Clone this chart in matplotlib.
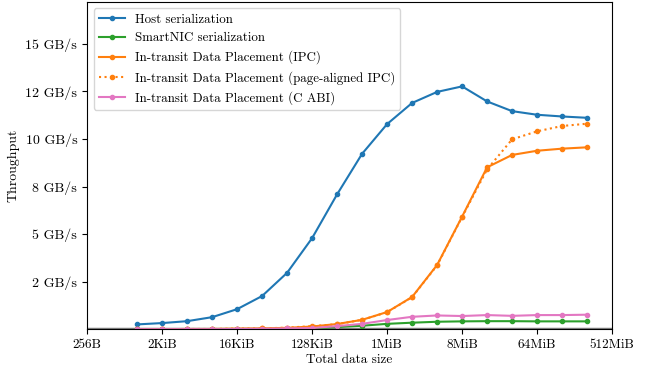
"""Throughput vs total data size for the serialization / data placement variants."""

import matplotlib
matplotlib.use('Agg')
from matplotlib import pyplot as plt
from matplotlib.ticker import FuncFormatter

plt.rcParams['font.family'] = 'serif'
plt.rcParams['font.serif'] = ['cmr10']
plt.rcParams['mathtext.fontset'] = 'cm'
plt.rcParams['axes.formatter.use_mathtext'] = True
plt.rcParams['font.size'] = 10

# sizes: 1KiB .. 256MiB, as powers of two
exponents = list(range(10, 29))
sizes = [2 ** e for e in exponents]

host = [0.26, 0.33, 0.43, 0.64, 1.06, 1.75, 2.97, 4.79, 7.09, 9.22, 10.78,
        11.89, 12.47, 12.76, 11.97, 11.46, 11.27, 11.18, 11.11]
smartnic = [0.005, 0.005, 0.005, 0.005, 0.01, 0.01, 0.02, 0.05, 0.12, 0.19,
            0.29, 0.35, 0.40, 0.42, 0.43, 0.43, 0.42, 0.42, 0.42]
ipc = [0.01, 0.01, 0.02, 0.02, 0.04, 0.05, 0.08, 0.15, 0.28, 0.50, 0.91,
       1.70, 3.38, 5.92, 8.51, 9.16, 9.38, 9.49, 9.56]
ipc_aligned = [0.01, 0.01, 0.02, 0.02, 0.04, 0.05, 0.09, 0.17, 0.27, 0.50,
               0.90, 1.69, 3.36, 5.90, 8.40, 9.98, 10.40, 10.68, 10.80]
c_abi = [0.01, 0.01, 0.01, 0.01, 0.02, 0.03, 0.05, 0.07, 0.17, 0.29, 0.49,
         0.66, 0.73, 0.70, 0.75, 0.71, 0.75, 0.75, 0.77]

xtick_exp = [8, 11, 14, 17, 20, 23, 26, 29]
xtick_labels = ['256B', '2KiB', '16KiB', '128KiB', '1MiB', '8MiB', '64MiB',
                '512MiB']
yticks = [2.5, 5, 7.5, 10, 12.5, 15]

fig, ax = plt.subplots(figsize=(6.45, 3.68), dpi=100)
fig.subplots_adjust(left=0.135, right=0.949, top=0.995, bottom=0.105)

ax.axhline(0, color='gray', lw=2.5, zorder=1)
ax.plot(sizes, host, '.-', color='#1f77b4', label='Host serialization')
ax.plot(sizes, smartnic, '.-', color='#2ca02c', label='SmartNIC serialization')
ax.plot(sizes, ipc, '.-', color='#ff7f0e',
        label='In-transit Data Placement (IPC)')
ax.plot(sizes, ipc_aligned, '.:', color='#ff7f0e',
        label='In-transit Data Placement (page-aligned IPC)')
ax.plot(sizes, c_abi, '.-', color='#e377c2',
        label='In-transit Data Placement (C ABI)')

ax.set_xscale('log', base=2)
ax.set_xlim(2 ** 8, 2 ** 29)
ax.set_xticks([2 ** e for e in xtick_exp])
ax.set_xticklabels(xtick_labels, fontsize=9.5)
ax.minorticks_off()

ax.set_ylim(0, 17.2)
ax.set_yticks(yticks)
ax.yaxis.set_major_formatter(FuncFormatter(lambda v, p: '%.0f GB/s' % v))

ax.set_xlabel('Total data size', fontsize=9.5, labelpad=2)
ax.set_ylabel('Throughput')
ax.legend(loc='upper left', fontsize=9.3)

fig.savefig('out.png', dpi=100)
